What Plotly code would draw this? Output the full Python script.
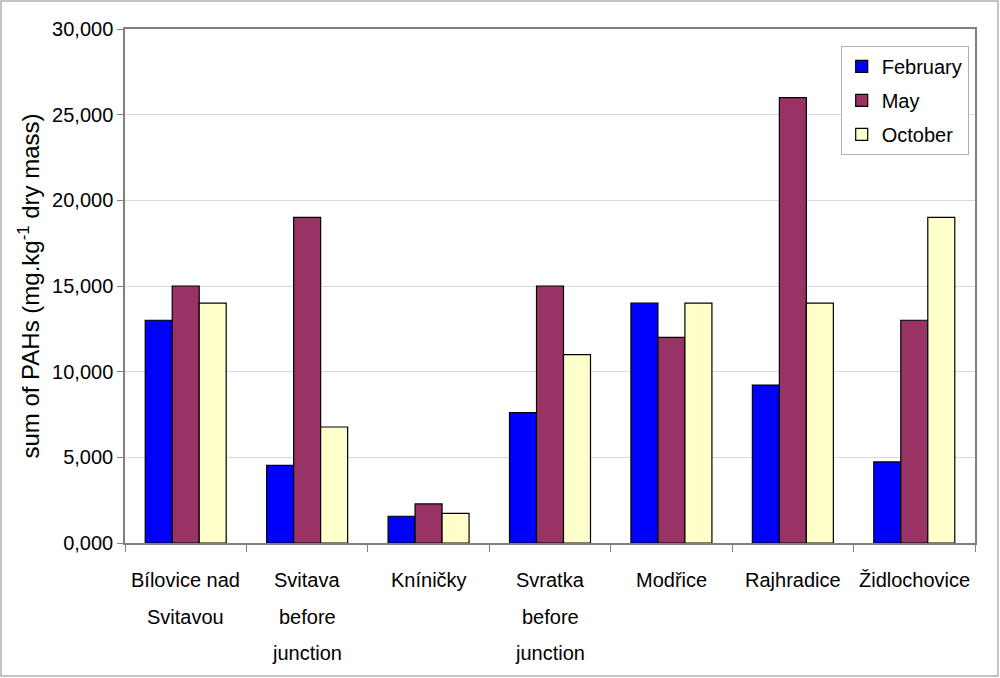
import plotly.graph_objects as go

# sites along the river
sites = [
    "Bílovice nad<br>Svitavou",
    "Svitava<br>before<br>junction",
    "Kníničky",
    "Svratka<br>before<br>junction",
    "Modřice",
    "Rajhradice",
    "Židlochovice",
]

# sum of PAHs per sampling month
february = [13.0, 4.53, 1.56, 7.61, 14.0, 9.22, 4.73]
may = [15.0, 19.0, 2.28, 15.0, 12.0, 26.0, 13.0]
october = [14.0, 6.77, 1.73, 11.0, 14.0, 14.0, 19.0]

y_ticks = [0, 5, 10, 15, 20, 25, 30]

FONT = "Liberation Sans, Arial, sans-serif"
FS = 20

fig = go.Figure()
for name, vals, col in [
    ("February", february, "#0000FF"),
    ("May", may, "#993366"),
    ("October", october, "#FFFFCC"),
]:
    fig.add_trace(go.Bar(
        x=sites, y=vals, name=name, legendgroup=name,
        marker=dict(color=col, line=dict(color="#000000", width=1.2)),
    ))

# category labels, one line each so the line spacing matches
annotations = []
for s in sites:
    for i, line in enumerate(s.split("<br>")):
        annotations.append(dict(
            x=s, xref="x", y=0, yref="paper", text=line, showarrow=False,
            xanchor="center", yanchor="middle", yshift=-37 - 36.5 * i,
            font=dict(size=FS),
        ))

fig.update_layout(
    width=1000, height=678,
    paper_bgcolor="white", plot_bgcolor="white",
    margin=dict(l=125, r=25, t=29, b=135),
    barmode="group", bargap=0.333, bargroupgap=0,
    separators=",.",
    font=dict(family=FONT, size=FS, color="#000000"),
    showlegend=True,
    legend=dict(
        x=0.842, y=0.967, xanchor="left", yanchor="top",
        bordercolor="#b0b0b0", borderwidth=1, bgcolor="white",
        font=dict(size=FS), tracegroupgap=5,
    ),
    annotations=annotations,
    shapes=[dict(
        type="rect", xref="paper", yref="paper",
        x0=-0.1459, x1=1.027, y0=-0.2588, y1=1.0545,
        line=dict(color="#b0b0b0", width=1.5),
    )],
)

fig.update_xaxes(
    showline=True, linecolor="#808080", linewidth=1.5, mirror=True,
    ticks="outside", tickson="boundaries", ticklen=7, tickcolor="#808080",
    showticklabels=False, showgrid=False,
)
fig.update_yaxes(
    range=[0, 30], tickvals=y_ticks, tickformat=".3f",
    showline=True, linecolor="#808080", linewidth=1.5, mirror=True,
    ticks="outside", ticklen=6, tickcolor="#808080",
    showgrid=True, gridcolor="#d9d9d9", gridwidth=1,
    tickfont=dict(size=FS),
    title=dict(text="sum of PAHs (mg.kg<sup>-1</sup> dry mass)", font=dict(size=24), standoff=6),
)

# page body has a default margin; drop it so the chart sits at the corner
fig.write_html(
    "out.html",
    config={"displayModeBar": False},
    post_script="document.body.style.margin='0';",
)
